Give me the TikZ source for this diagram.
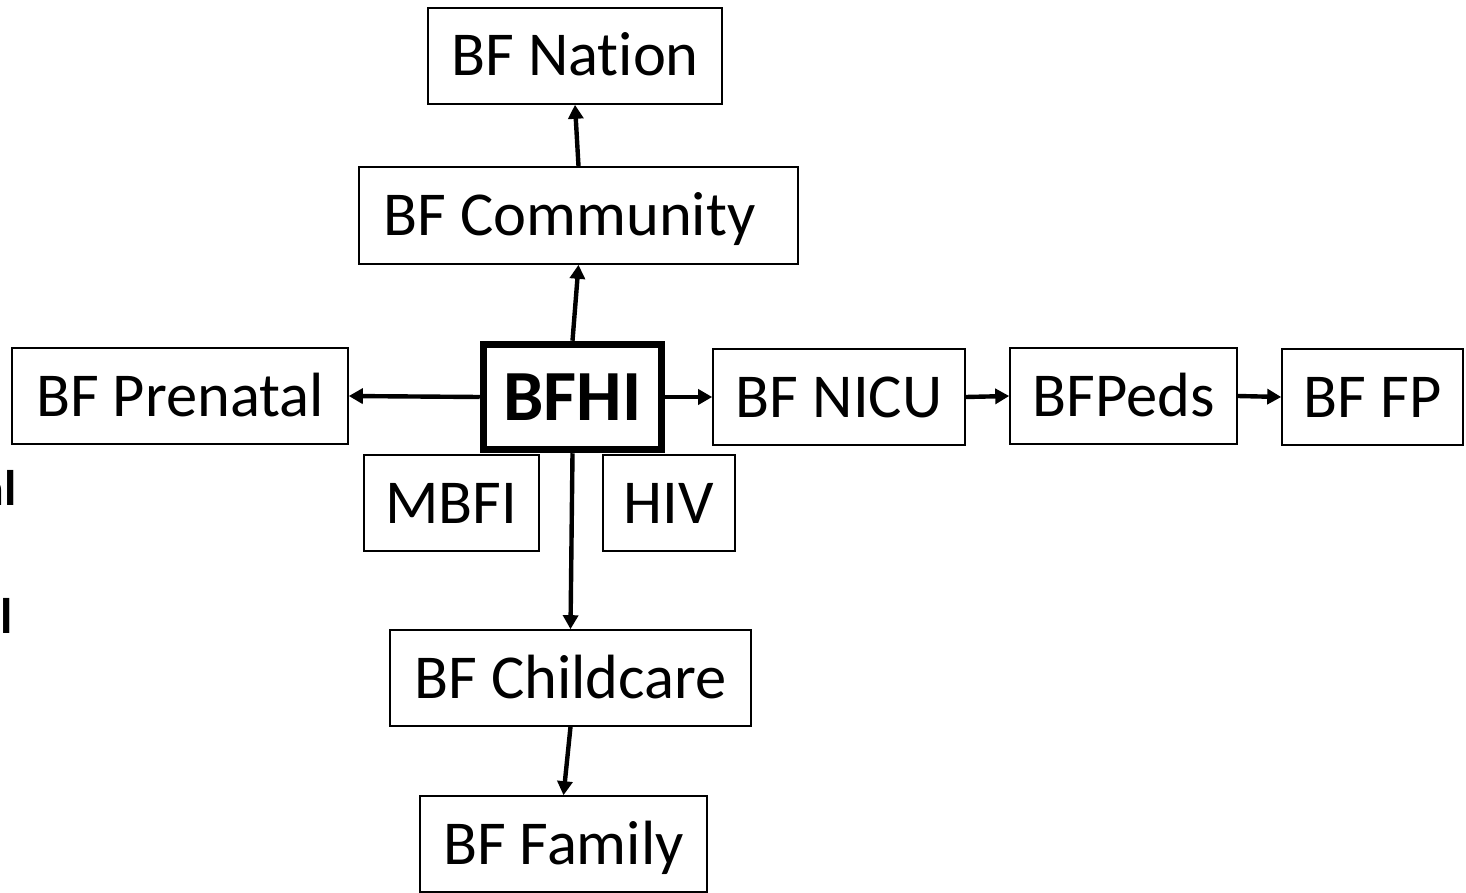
\documentclass[tikz,border=0pt]{standalone}
\usepackage{fontspec}
\setmainfont[Ligatures=NoCommon]{Carlito}
\usetikzlibrary{arrows.meta}
\begin{document}
\begin{tikzpicture}[x=1pt,y=-1pt,
  box/.style={draw=black,line width=1.6pt,fill=white,inner sep=0pt,
    font=\fontsize{62.5}{70}\selectfont,text height=40pt,text depth=0pt},
  mainbox/.style={box,line width=7.5pt,font=\fontsize{72}{80}\selectfont\bfseries,text height=46pt},
  frag/.style={inner sep=0pt,font=\fontsize{50}{56}\selectfont\bfseries,anchor=base east},
  arr/.style={line width=4.4pt,-{Triangle[length=14pt,width=15pt]}}]
\useasboundingbox (0,0) rectangle (1466,893);
\fill[white] (0,0) rectangle (1466,893);
\node[box,minimum width=294pt,minimum height=96pt] (nation) at (575,56) {BF Nat\kern0pt ion};
\node[box,minimum width=439pt,minimum height=97pt] (comm) at (578.5,215.5) {BF Communit\kern0pt y\rule{18pt}{0pt}};
\node[box,minimum width=336pt,minimum height=96pt] (pren) at (180,396) {BF Prenatal};
\node[mainbox,minimum width=178pt,minimum height=105pt] (bfhi) at (572.5,397) {BFHI};
\node[box,minimum width=252pt,minimum height=96pt] (nicu) at (839,397) {BF NICU};
\node[box,minimum width=227pt,minimum height=96pt] (peds) at (1123.5,396) {BFPeds};
\node[box,minimum width=181pt,minimum height=96pt] (fp) at (1372.5,397) {BF FP};
\node[box,minimum width=175pt,minimum height=96pt] (mbfi) at (451.5,503) {MBFI};
\node[box,minimum width=132pt,minimum height=96pt] (hiv) at (669,503) {HIV};
\node[box,minimum width=361pt,minimum height=96pt] (child) at (570.5,678) {BF Childcare};
\node[box,minimum width=287pt,minimum height=96pt] (fam) at (563.5,844) {BF Family};
\node[frag] (fa) at (17,505) {al};
\node[frag] (fb) at (13,633) {l};
\draw[arr] (bfhi.north) -- (comm.south);
\draw[arr] (comm.north) -- (nation.south);
\draw[arr] (bfhi.west) -- (pren.east);
\draw[arr] (bfhi.east) -- (nicu.west);
\draw[arr] (nicu.east) -- (peds.west);
\draw[arr] (peds.east) -- (fp.west);
\draw[arr] (bfhi.south) -- (child.north);
\draw[arr] (child.south) -- (fam.north);
\end{tikzpicture}
\end{document}
